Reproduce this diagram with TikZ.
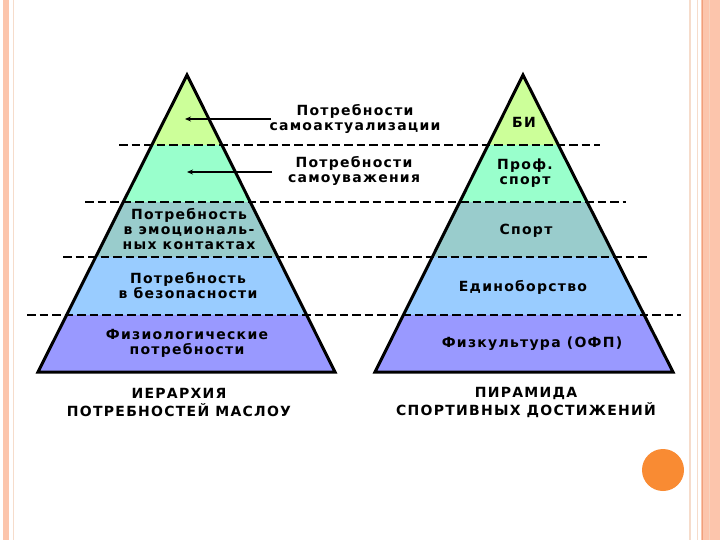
\documentclass[tikz,border=0pt]{standalone}
\usepackage{fontspec}
\setmainfont{DejaVu Sans}
\newfontfamily\lblfont{DejaVu Sans}[LetterSpace=9]
\newfontfamily\capfont{DejaVu Sans}[LetterSpace=9]
\usetikzlibrary{arrows.meta}
\definecolor{bandA}{HTML}{CCFF99}
\definecolor{bandB}{HTML}{99FFCC}
\definecolor{bandC}{HTML}{99CCCC}
\definecolor{bandD}{HTML}{99CCFF}
\definecolor{bandE}{HTML}{9999FF}
\definecolor{peach}{HTML}{FCC5AC}
\definecolor{peachdark}{HTML}{F0A07C}
\definecolor{peachlight}{HTML}{F6DCCB}
\definecolor{dotorange}{HTML}{F98B33}
\begin{document}
\begin{tikzpicture}[x=1pt,y=-1pt,
  txt/.style={font=\fontsize{14}{15}\selectfont\lblfont\bfseries, align=center, inner sep=0pt},
  captxt/.style={font=\fontsize{14}{18}\selectfont\capfont\bfseries, align=center, inner sep=0pt},
  sep/.style={line width=2.8pt, dash pattern=on 8.5pt off 4pt},
  edge/.style={line width=3pt, line join=miter},
  pointer/.style={line width=1.8pt, -{Stealth[length=6pt,width=5pt]}}]
% canvas
\fill[white] (0,0) rectangle (720,540);
\useasboundingbox (0,0) rectangle (720,540);
% slide border
\fill[peach] (3,0) rectangle (9,540);
\draw[peachlight, line width=1pt] (13,0) -- (13,540);
\draw[peachlight, line width=1.5pt] (690,0) -- (690,540);
\draw[peachlight, line width=1pt] (697,0) -- (697,540);
\fill[peach] (701,0) rectangle (720,540);
\draw[peachdark, line width=1pt] (702.5,0) -- (702.5,540);
\draw[peachlight!60!peach, line width=0.8pt] (709,0) -- (709,540);
% pyramid corners
\coordinate (LA) at (187,75);
\coordinate (LB) at (38,372);
\coordinate (LC) at (335,372);
\coordinate (RA) at (523,75);
\coordinate (RB) at (375,372);
\coordinate (RC) at (673,372);
% bands
\begin{scope}
\clip (LA) -- (LB) -- (LC) -- cycle (RA) -- (RB) -- (RC) -- cycle;
\fill[bandA] (0,70) rectangle (720,145);
\fill[bandB] (0,145) rectangle (720,202);
\fill[bandC] (0,202) rectangle (720,257);
\fill[bandD] (0,257) rectangle (720,315);
\fill[bandE] (0,315) rectangle (720,375);
\end{scope}
% dashed separators
\coordinate (s1a) at (119,145); \coordinate (s1b) at (600,145);
\coordinate (s2a) at (85,202);  \coordinate (s2b) at (626,202);
\coordinate (s3a) at (63,257);  \coordinate (s3b) at (648,257);
\coordinate (s4a) at (27,315);  \coordinate (s4b) at (681,315);
\draw[sep] (s1a) -- (s1b);
\draw[sep] (s2a) -- (s2b);
\draw[sep] (s3a) -- (s3b);
\draw[sep] (s4a) -- (s4b);
% outlines
\draw[edge] (LA) -- (LB) -- (LC) -- cycle;
\draw[edge] (RA) -- (RB) -- (RC) -- cycle;
% left pyramid labels
\node[txt] (l3) at (189,229) {Потребность\\в эмоциональ-\\ных контактах};
\node[txt] (l4) at (188,286) {Потребность\\в безопасности};
\node[txt] (l5) at (187,343) {Физиологические\\потребности};
% side labels with arrows
\node[txt] (n1) at (355,119) {Потребности\\самоактуализации};
\node[txt] (n2) at (354,171) {Потребности\\самоуважения};
\coordinate (a1s) at (271,119); \coordinate (a1e) at (185,119);
\coordinate (a2s) at (272,172); \coordinate (a2e) at (187,172);
\draw[pointer] (a1s) -- (a1e);
\draw[pointer] (a2s) -- (a2e);
% right pyramid labels
\node[txt] (r1) at (524,122) {БИ};
\node[txt] (r2) at (525,173) {Проф.\\спорт};
\node[txt] (r3) at (526,231) {Спорт};
\node[txt] (r4) at (523,287) {Единоборство};
\node[txt] (r5) at (532,344) {Физкультура (ОФП)};
% captions
\node[captxt] (c1) at (179,402) {ИЕРАРХИЯ\\ПОТРЕБНОСТЕЙ МАСЛОУ};
\node[captxt] (c2) at (526,402) {ПИРАМИДА\\СПОРТИВНЫХ ДОСТИЖЕНИЙ};
% decoration dot
\fill[dotorange] (663,470) circle (21);
\end{tikzpicture}
\end{document}
